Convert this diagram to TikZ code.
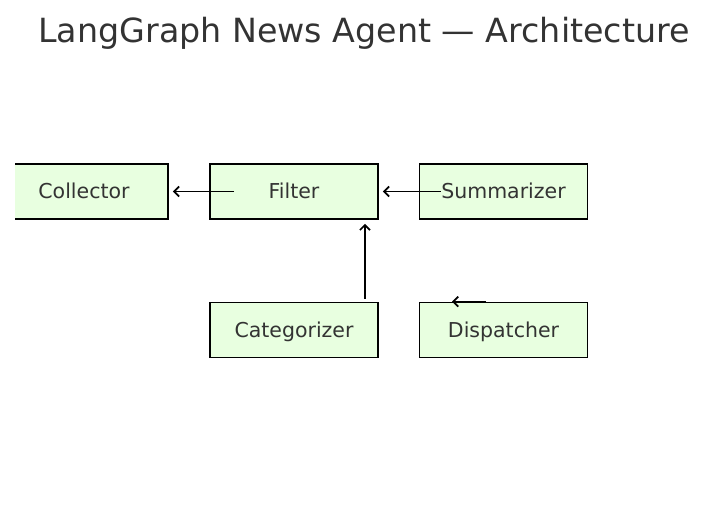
\documentclass[tikz,border=0pt]{standalone}
\usepackage{fontspec}
\setmainfont{DejaVu Sans}
\usetikzlibrary{calc,arrows.meta}
\definecolor{txt}{HTML}{333333}
\definecolor{boxfill}{HTML}{E8FFE0}
\tikzset{
  agent/.style={draw=black, line width=1.8pt, fill=boxfill, minimum width=168pt, minimum height=55pt, inner sep=0pt, text height=14pt, text depth=0pt, text=txt, font=\fontsize{20.5}{24}\selectfont},
  flow/.style={line width=1.7pt, -{Straight Barb[length=5pt,width=10pt,line width=1.7pt]}}
}
\begin{document}
\begin{tikzpicture}[x=1pt,y=-1pt]
\useasboundingbox (0,0) rectangle (727,530);
\node[anchor=base, text=txt, font=\fontsize{33.3}{40}\selectfont] (title) at (364,42) {LangGraph News Agent — Architecture};
\begin{scope}
\clip (15,0) rectangle (727,530);
\node[agent] (collector) at (84,191.5) {Collector};
\end{scope}
\node[agent] (filter) at (294,191.5) {Filter};
\node[agent] (summarizer) at (503.5,191.5) {Summarizer};
\node[agent] (categorizer) at (294,330) {Categorizer};
\node[agent] (dispatcher) at (503.5,330) {Dispatcher};
\draw[flow] ($(filter.west)+(25,0)$) -- ($(collector.east)+(4,0)$);
\draw[flow] ($(summarizer.west)+(22,0)$) -- ($(filter.east)+(4,0)$);
\draw[flow] ($(categorizer.north east)+(-14,-3)$) -- ($(filter.south east)+(-14,4)$);
\draw[flow] ($(dispatcher.north)+(-17.5,0)$) -- ($(dispatcher.north)+(-51.5,0)$);
\end{tikzpicture}
\end{document}
